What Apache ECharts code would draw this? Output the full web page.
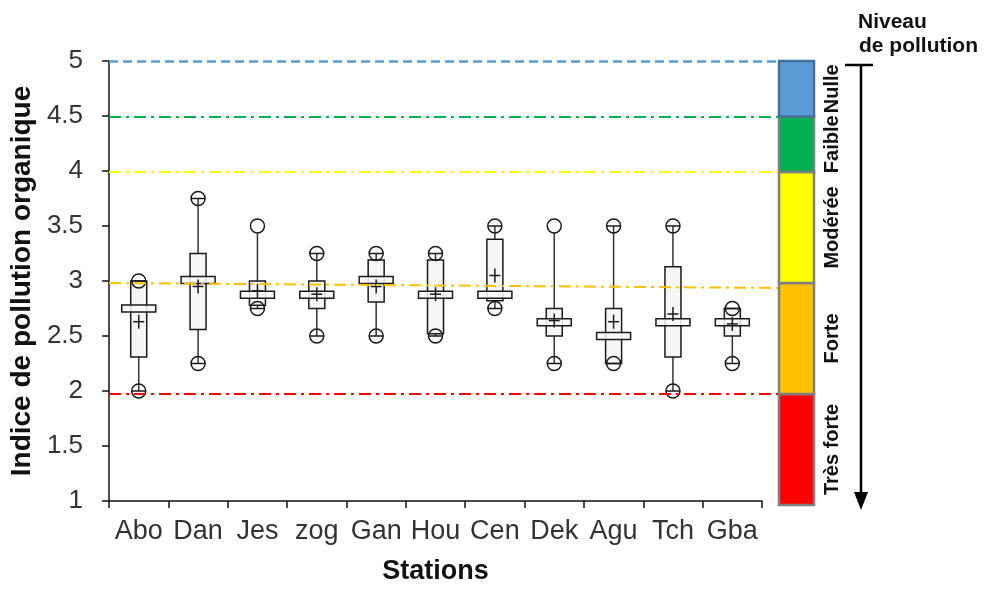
<!DOCTYPE html>
<html>
<head>
<meta charset="utf-8">
<script src="https://cdn.jsdelivr.net/npm/echarts@6/dist/echarts.min.js"></script>
<style>
  html, body { margin: 0; padding: 0; background: #fff; }
  #chart { width: 988px; height: 590px; }
</style>
</head>
<body>
<div id="chart"></div>
<script>
// Stations and their box-plot statistics (indice de pollution organique)
const stations = ['Abo', 'Dan', 'Jes', 'zog', 'Gan', 'Hou', 'Cen', 'Dek', 'Agu', 'Tch', 'Gba'];
const minValues    = [2.0,  2.25, 2.75, 2.5,  2.5,  2.5,  2.75, 2.25, 2.25, 2.0,  2.25];
const q1Values     = [2.31, 2.56, 2.78, 2.75, 2.81, 2.52, 2.82, 2.5,  2.25, 2.31, 2.5];
const medianValues = [2.75, 3.01, 2.875, 2.875, 3.01, 2.875, 2.875, 2.625, 2.5, 2.625, 2.625];
const q3Values     = [3.0,  3.25, 3.0,  3.0,  3.19, 3.19, 3.38, 2.75, 2.75, 3.13, 2.75];
const maxValues    = [3.0,  3.75, 3.5,  3.25, 3.25, 3.25, 3.5,  3.5,  3.5,  3.5,  2.75];
const meanValues   = [2.63, 2.95, 2.91, 2.88, 2.95, 2.88, 3.05, 2.64, 2.63, 2.70, 2.61];
// 1 when the maximum is an isolated point (no whisker cap)
const maxIsOutlier = [0, 0, 1, 0, 0, 0, 0, 1, 0, 0, 0];

// Pollution level scale
const yTicks = [1, 1.5, 2, 2.5, 3, 3.5, 4, 4.5, 5];
const levelNames  = ['Très forte', 'Forte', 'Modérée', 'Faible', 'Nulle'];
const levelBounds = [1, 2, 3, 4, 4.5, 5];
const levelColors = ['#ff0000', '#ffc000', '#ffff00', '#00b050', '#5b9bd5'];
// Threshold lines drawn across the plot (start value, end value)
const thresholdStart = [2, 3, 4, 4.5, 5];
const thresholdEnd   = [2, 2.955, 4, 4.5, 5];

const FONT = '"Liberation Sans", Arial, sans-serif';

const boxData = stations.map((s, i) => [i, minValues[i], q1Values[i], medianValues[i],
  q3Values[i], maxValues[i], meanValues[i], maxIsOutlier[i]]);

function renderBox(params, api) {
  const idx = api.value(0);
  const x = api.coord([idx, 0])[0];
  const y = v => api.coord([idx, v])[1];
  const yMin = y(api.value(1)), yQ1 = y(api.value(2)), yMed = y(api.value(3));
  const yQ3 = y(api.value(4)), yMax = y(api.value(5)), yMean = y(api.value(6));
  const outlier = api.value(7) === 1;
  const stroke = '#1a1a1a';
  const lw = 1.5;
  const r = 7;
  const boxHalf = 8, medHalf = 17, medHalfH = 3.5;
  const children = [];
  // whiskers
  children.push({ type: 'line', shape: { x1: x, y1: outlier ? yMax + r : yMax, x2: x, y2: yQ3 },
    style: { stroke: '#333', lineWidth: lw } });
  children.push({ type: 'line', shape: { x1: x, y1: yQ1, x2: x, y2: yMin },
    style: { stroke: '#333', lineWidth: lw } });
  // box
  children.push({ type: 'rect', shape: { x: x - boxHalf, y: yQ3, width: boxHalf * 2, height: Math.max(yQ1 - yQ3, 1) },
    style: { fill: 'rgba(240,240,240,0.6)', stroke: stroke, lineWidth: lw } });
  // median bar
  children.push({ type: 'rect', shape: { x: x - medHalf, y: yMed - medHalfH, width: medHalf * 2, height: medHalfH * 2 },
    style: { fill: 'rgba(250,250,250,0.85)', stroke: stroke, lineWidth: lw } });
  // mean cross
  children.push({ type: 'line', shape: { x1: x - 5.5, y1: yMean, x2: x + 5.5, y2: yMean },
    style: { stroke: stroke, lineWidth: lw } });
  children.push({ type: 'line', shape: { x1: x, y1: yMean - 7, x2: x, y2: yMean + 7 },
    style: { stroke: stroke, lineWidth: lw } });
  // extreme points
  children.push({ type: 'circle', shape: { cx: x, cy: yMin, r: r },
    style: { fill: 'none', stroke: stroke, lineWidth: lw } });
  children.push({ type: 'line', shape: { x1: x - r, y1: yMin, x2: x + r, y2: yMin },
    style: { stroke: stroke, lineWidth: lw } });
  children.push({ type: 'circle', shape: { cx: x, cy: yMax, r: r },
    style: { fill: 'none', stroke: stroke, lineWidth: lw } });
  if (!outlier) {
    children.push({ type: 'line', shape: { x1: x - r, y1: yMax, x2: x + r, y2: yMax },
      style: { stroke: stroke, lineWidth: lw } });
  }
  return { type: 'group', children: children };
}

const GRID_TOP = 61, GRID_BOTTOM = 85;

const option = {
  animation: false,
  backgroundColor: '#fff',
  grid: [
    { left: 109, right: 226, top: GRID_TOP, bottom: GRID_BOTTOM },
    { left: 109, width: 669, top: GRID_TOP, bottom: GRID_BOTTOM },
    { left: 779, width: 35, top: GRID_TOP, bottom: GRID_BOTTOM }
  ],
  xAxis: [
    {
      type: 'category', gridIndex: 0, data: stations,
      name: 'Stations', nameLocation: 'middle', nameGap: 57,
      nameTextStyle: { fontFamily: FONT, fontWeight: 'bold', fontSize: 27, color: '#111' },
      axisLine: { lineStyle: { color: '#111', width: 1.5 } },
      axisTick: { show: true, length: 7, lineStyle: { color: '#111', width: 1.5 } },
      axisLabel: { interval: 0, margin: 17, fontFamily: FONT, fontSize: 27, color: '#333' },
      splitLine: { show: false }
    },
    { type: 'value', gridIndex: 1, min: 0, max: 1, show: false },
    { type: 'value', gridIndex: 2, min: 0, max: 1, show: false }
  ],
  yAxis: [
    {
      type: 'value', gridIndex: 0, min: yTicks[0], max: yTicks[yTicks.length - 1], interval: 0.5,
      name: 'Indice de pollution organique', nameLocation: 'middle', nameGap: 73,
      nameTextStyle: { fontFamily: FONT, fontWeight: 'bold', fontSize: 28, color: '#111' },
      axisLine: { show: true, lineStyle: { color: '#111', width: 1.5 } },
      axisTick: { show: true, length: 7, lineStyle: { color: '#111', width: 1.5 } },
      axisLabel: { margin: 26, fontFamily: FONT, fontSize: 26, color: '#333' },
      splitLine: { show: false }
    },
    { type: 'value', gridIndex: 1, min: 1, max: 5, show: false },
    { type: 'value', gridIndex: 2, min: 1, max: 5, show: false }
  ],
  series: [
    {
      type: 'custom', xAxisIndex: 0, yAxisIndex: 0, z: 3,
      renderItem: renderBox,
      encode: { x: 0, y: [1, 2, 3, 4, 5, 6] },
      data: boxData
    },
    {
      type: 'line', xAxisIndex: 1, yAxisIndex: 1, data: [], z: 5, silent: true,
      markLine: {
        silent: true, symbol: 'none', label: { show: false }, animation: false,
        data: thresholdStart.map((v, i) => [
          { coord: [0, v], lineStyle: {
              color: levelColors[i], width: i === 4 ? 2.5 : 2,
              type: i === 4 ? [9, 5] : [12, 5, 3, 5] } },
          { coord: [1, thresholdEnd[i]] }
        ])
      }
    },
    {
      type: 'line', xAxisIndex: 2, yAxisIndex: 2, data: [], silent: true,
      markArea: {
        silent: true, animation: false,
        data: levelNames.map((n, i) => [
          { yAxis: levelBounds[i], itemStyle: {
              color: levelColors[i], borderColor: i === 4 ? '#41719c' : '#7f7f7f', borderWidth: 2.5 } },
          { yAxis: levelBounds[i + 1] }
        ])
      }
    }
  ]
};

const chart = echarts.init(document.getElementById('chart'), null, { renderer: 'canvas' });
chart.setOption(option);

// Level names beside the colour scale, plus the "Niveau de pollution" arrow
const graphics = levelNames.map((n, i) => {
  const cy = chart.convertToPixel({ yAxisIndex: 2 }, (levelBounds[i] + levelBounds[i + 1]) / 2);
  return {
    type: 'text', x: 832, y: cy, rotation: Math.PI / 2,
    style: { text: n, font: 'bold 20px ' + FONT, fill: '#111', align: 'center', verticalAlign: 'middle' }
  };
});
graphics.push(
  { type: 'text', x: 858, y: 22, style: { text: 'Niveau', font: 'bold 21px ' + FONT, fill: '#111', align: 'left', verticalAlign: 'middle' } },
  { type: 'text', x: 859, y: 46, style: { text: 'de pollution', font: 'bold 21px ' + FONT, fill: '#111', align: 'left', verticalAlign: 'middle' } },
  { type: 'line', shape: { x1: 845, y1: 65, x2: 873, y2: 65 }, style: { stroke: '#000', lineWidth: 2.5 } },
  { type: 'line', shape: { x1: 861, y1: 65, x2: 861, y2: 495 }, style: { stroke: '#000', lineWidth: 2.5 } },
  { type: 'polygon', shape: { points: [[854, 492], [868, 492], [861, 510]] }, style: { fill: '#000' } }
);
chart.setOption({ graphic: graphics });
</script>
</body>
</html>
